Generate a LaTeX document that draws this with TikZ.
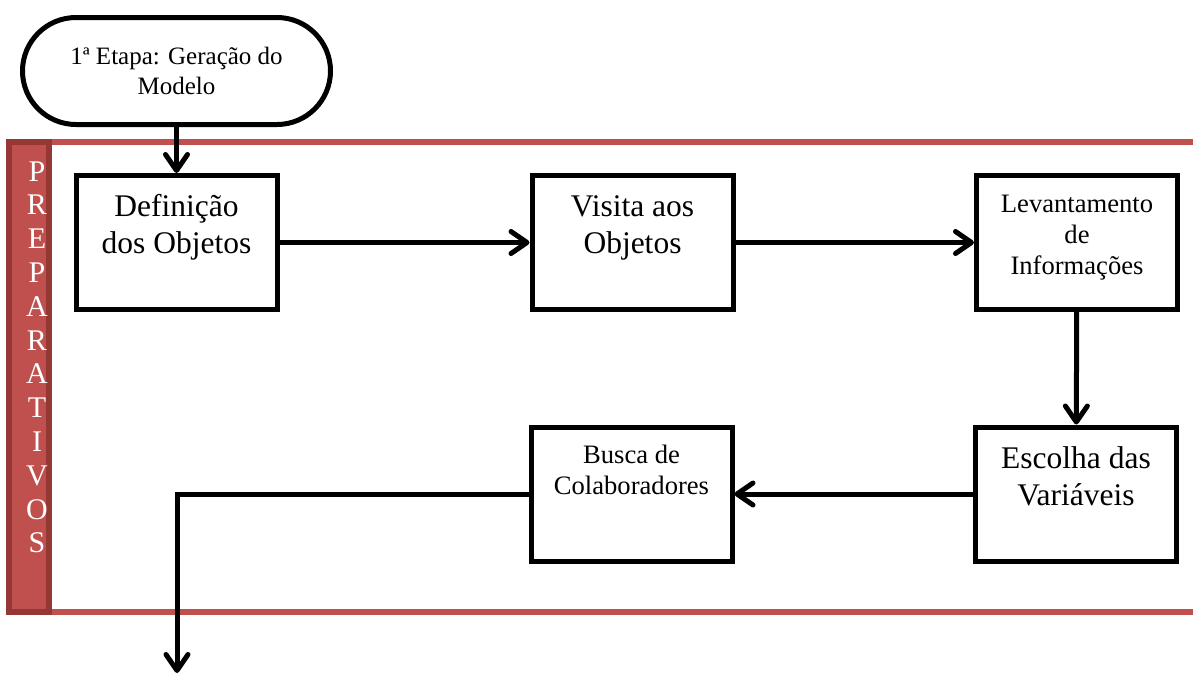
\documentclass[tikz,border=0pt]{standalone}
\usepackage{fontspec}
\setmainfont{Liberation Serif}
\usetikzlibrary{arrows.meta}
\definecolor{bandred}{HTML}{C0504D}
\definecolor{banddark}{HTML}{953735}
\newcommand{\boxlines}[1]{\parbox[c][67pt][t]{100.5pt}{\centering\vspace*{7.6pt}\strut#1}}

\begin{document}
\begin{tikzpicture}[
		x=0.5pt, y=-0.5pt,
		every node/.style={inner sep=0pt},
		stepbox/.style={rectangle, draw, line width=2.5pt},
		bigtext/.style={font=\fontsize{15.75}{18.5}\selectfont},
		smalltext/.style={font=\fontsize{13.3}{15.5}\selectfont},
		flow/.style={line width=2.5pt, -{Straight Barb[length=8pt, width=11pt, round]}}
	]
  \useasboundingbox (0,0) rectangle (1193,675);
  \draw[bandred, line width=3pt] (49,142) -- (1193,142);
  \draw[bandred, line width=3pt] (49,612) -- (1193,612);
  \draw[fill=bandred, draw=banddark, line width=3pt] (9,142) rectangle (49,612);
  \node (prep) [anchor=north, align=center, text=white, font=\fontsize{15}{16.9}\selectfont] at (37,161) {P\\R\\E\\P\\A\\R\\A\\T\\I\\V\\O\\S};
  \node (start) [rectangle, rounded corners=26.75pt, draw, line width=2.5pt, minimum width=154pt, minimum height=53.5pt, align=center, font=\fontsize{12.5}{15}\selectfont] at (176.5,71) {1ª Etapa: Geração do\\Modelo};
  \node (def) [stepbox, bigtext] at (176.5,242.5) {\boxlines{Definição\\dos Objetos}};
  \node (visita) [stepbox, bigtext] at (632.5,242.5) {\boxlines{Visita aos\\Objetos}};
  \node (levant) [stepbox, smalltext] at (1077,242.5) {\boxlines{Levantamento\\de\\Informações}};
  \node (escolha) [stepbox, bigtext] at (1076,494) {\boxlines{Escolha das\\Variáveis}};
  \node (busca) [stepbox, smalltext] at (631.5,494) {\boxlines{Busca de\\Colaboradores}};
  \coordinate (exit) at (177,673);
  \draw[flow] (start) -- (def);
  \draw[flow] (def) -- (visita);
  \draw[flow] (visita) -- (levant);
  \draw[flow] (levant) -- (escolha);
  \draw[flow] (escolha) -- (busca);
  \draw[flow] (busca.west) -| (exit);
\end{tikzpicture}
\end{document}
